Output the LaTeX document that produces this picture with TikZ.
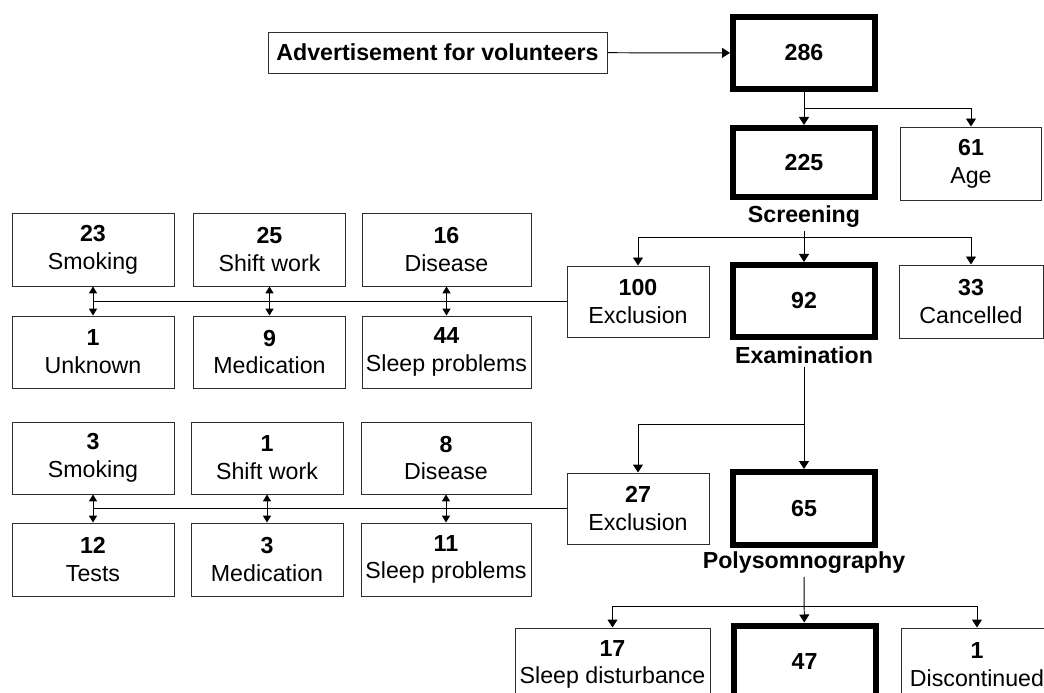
\documentclass[tikz,border=0pt]{standalone}
\usepackage{fontspec}
\setmainfont{Liberation Sans}
\usetikzlibrary{arrows.meta}
\definecolor{rim}{RGB}{45,45,45}
\tikzset{every node/.style={font=\fontsize{16.5}{19.8}\selectfont},
 box/.style={draw=rim,line width=0.7pt,align=center,inner sep=0pt,
  minimum width=35.5mm,minimum height=18mm},
 bigbox/.style={draw,line width=1.5mm,inner sep=0pt,minimum width=35.5mm,
  minimum height=18mm,font=\fontsize{16.5}{19.8}\selectfont\bfseries},
 stage/.style={font=\fontsize{16.5}{19.8}\selectfont\bfseries,inner sep=2pt},
 link/.style={-{Triangle[length=2mm,width=2.5mm]},line width=0.7pt},
 pair/.style={{Triangle[length=1.7mm,width=2mm]}-{Triangle[length=1.7mm,width=2mm]},
  line width=0.7pt},
 bus/.style={line width=1.3pt}}

\begin{document}
\begin{tikzpicture}[x=0.25mm,y=-0.25mm]
\clip (0,0) rectangle (1044,693);
% main line
\node[box,minimum width=84.75mm,minimum height=10.25mm,
 font=\fontsize{16.5}{19.8}\selectfont\bfseries] (adv) at (437.5,52.5) {Advertisement for volunteers};
\node[bigbox] (n286) at (804,53) {286};
\node[bigbox,minimum height=17.25mm] (n225) at (804,162.5) {225};
\node[box,minimum width=35.25mm,minimum height=18.25mm] (n61) at (971,163.5) {\textbf{61}\\Age};
\node[stage] (lscr) at (804,217) {Screening};
\node[box,minimum height=17.75mm] (n100) at (638,301.5) {\textbf{100}\\Exclusion};
\node[bigbox] (n92) at (804,301) {92};
\node[box,minimum width=36mm,minimum height=18.25mm] (n33) at (971,301.5) {\textbf{33}\\Cancelled};
\node[stage] (lexam) at (804,355) {Examination};
\node[box,minimum height=17.75mm] (n27) at (638,508.5) {\textbf{27}\\Exclusion};
\node[bigbox,minimum height=18.25mm] (n65) at (804,508.5) {65};
\node[stage] (lpoly) at (804,563) {Polysomnography};
\node[box,minimum width=48.75mm,minimum height=18.25mm] (n17) at (612.5,664.5) {\textbf{17}\\Sleep disturbance};
\node[bigbox] (n47) at (804.5,661.5) {47};
\node[box,minimum width=38mm,minimum height=18.25mm] (n1) at (977,664.5) {\textbf{1}\\Discontinued};
% exclusions after screening
\node[box,minimum width=40.5mm,minimum height=18.25mm] (s23) at (93,249.5) {\textbf{23}\\Smoking};
\node[box,minimum width=38mm,minimum height=18.25mm] (w25) at (269.5,249.5) {\textbf{25}\\Shift work};
\node[box,minimum width=42.25mm,minimum height=18.25mm] (d16) at (446.5,249.5) {\textbf{16}\\Disease};
\node[box,minimum width=40.5mm] (u1) at (93,352) {\textbf{1}\\Unknown};
\node[box,minimum width=38mm] (m9) at (269.5,352) {\textbf{9}\\Medication};
\node[box,minimum width=42.25mm] (p44) at (446.5,352) {\textbf{44}\\Sleep problems};
% exclusions after examination
\node[box,minimum width=40.5mm] (s3) at (93,458) {\textbf{3}\\Smoking};
\node[box,minimum width=38mm] (w1) at (267,458) {\textbf{1}\\Shift work};
\node[box,minimum width=42.5mm] (d8) at (446,458) {\textbf{8}\\Disease};
\node[box,minimum width=40.5mm,minimum height=18.25mm] (t12) at (93,559.5) {\textbf{12}\\Tests};
\node[box,minimum width=38mm,minimum height=18.25mm] (m3) at (267,559.5) {\textbf{3}\\Medication};
\node[box,minimum width=42.5mm,minimum height=18.25mm] (p11) at (446,559.5) {\textbf{11}\\Sleep problems};
% branch points
\coordinate (b1) at (804,108);
\coordinate (b2) at (804,237);
\coordinate (b3) at (804,424);
\coordinate (b4) at (804,606);
\draw[link] (adv) -- (n286);
\draw[link] (n286) -- (n225);
\draw[link] (b1) -| (n61);
\draw[link] (lscr) -- (n92);
\draw[link] (b2) -| (n100);
\draw[link] (b2) -| (n33);
\draw[link] (lexam) -- (n65);
\draw[link] (b3) -| (n27);
\draw[link] (lpoly) -- (n47);
\draw[link] (b4) -| (n17);
\draw[link] (b4) -| (n1);
\draw[bus] (n100.west) -- (n100.west -| s23.south);
\draw[bus] (n27.west) -- (n27.west -| s3.south);
\draw[pair] (s23) -- (u1);
\draw[pair] (w25) -- (m9);
\draw[pair] (d16) -- (p44);
\draw[pair] (s3) -- (t12);
\draw[pair] (w1) -- (m3);
\draw[pair] (d8) -- (p11);
\end{tikzpicture}
\end{document}
